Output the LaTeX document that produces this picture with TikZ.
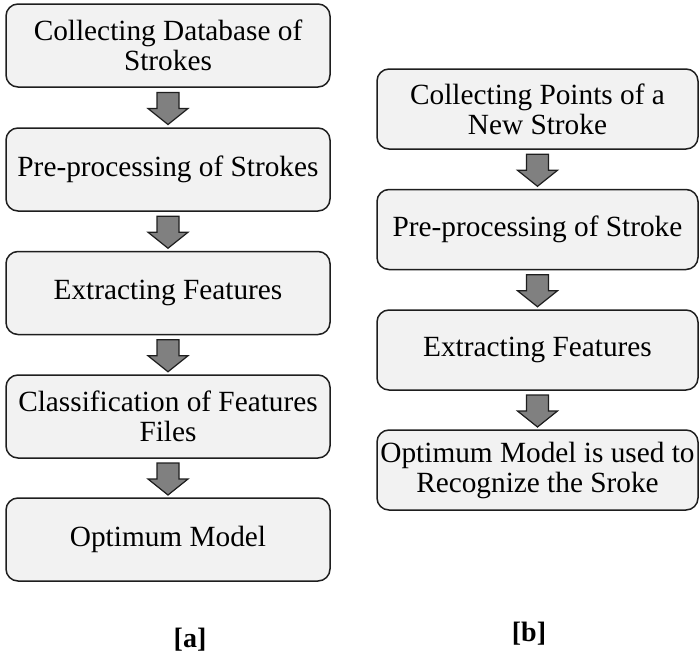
\documentclass[tikz,border=0pt]{standalone}
\usepackage{fontspec}
\setmainfont{Liberation Serif}
\usetikzlibrary{calc}
\definecolor{boxfill}{HTML}{F2F2F2}
\definecolor{boxline}{HTML}{1E1E1E}
\definecolor{arrowfill}{HTML}{808080}
\tikzset{
  stage/.style={draw=boxline, fill=boxfill, line width=1.5pt, rounded corners=12pt,
    align=center, inner sep=0pt, font=\fontsize{29.3}{30}\selectfont},
  leftstage/.style={stage, minimum width=324pt, minimum height=83pt},
  rightstage/.style={stage, minimum width=321pt, minimum height=80pt},
  blockarrow/.style={draw=boxline, fill=arrowfill, line width=1.2pt, line join=miter},
  caption/.style={font=\fontsize{28}{30}\selectfont\bfseries}
}
% hollow block arrow centred in the gap between two stacked nodes
\newcommand\flowarrow[2]{%
  \coordinate (fa-mid) at ($(#1.south)!0.5!(#2.north)$);
  \draw[blockarrow] ([shift={(-11,-15)}]fa-mid) -- ([shift={(11,-15)}]fa-mid)
    -- ([shift={(11,1)}]fa-mid) -- ([shift={(20,1)}]fa-mid)
    -- ([shift={(0,17)}]fa-mid) -- ([shift={(-20,1)}]fa-mid)
    -- ([shift={(-11,1)}]fa-mid) -- cycle;}
\begin{document}
\begin{tikzpicture}[x=1pt, y=-1pt]
  \useasboundingbox (0,0) rectangle (699,656);

  % column [a]: training
  \node[leftstage] (a1) at (168,45.5) {Collecting Database of\\Strokes};
  \node[leftstage] (a2) at (168,169.5) {Pre-processing of Strokes};
  \node[leftstage] (a3) at (168,293) {Extracting Features};
  \node[leftstage] (a4) at (168,416.5) {Classification of Features\\Files};
  \node[leftstage] (a5) at (168,539.5) {Optimum Model};
  \flowarrow{a1}{a2}
  \flowarrow{a2}{a3}
  \flowarrow{a3}{a4}
  \flowarrow{a4}{a5}
  \node[caption] (capa) at (190,640) {[a]};

  % column [b]: recognition
  \node[rightstage] (b1) at (537.5,109) {Collecting Points of a\\New Stroke};
  \node[rightstage] (b2) at (537.5,229.5) {Pre-processing of Stroke};
  \node[rightstage] (b3) at (537.5,350) {Extracting Features};
  \node[rightstage] (b4) at (537.5,470) {Optimum Model is used to\\Recognize the Sroke};
  \flowarrow{b1}{b2}
  \flowarrow{b2}{b3}
  \flowarrow{b3}{b4}
  \node[caption] (capb) at (529,634) {[b]};
\end{tikzpicture}
\end{document}
